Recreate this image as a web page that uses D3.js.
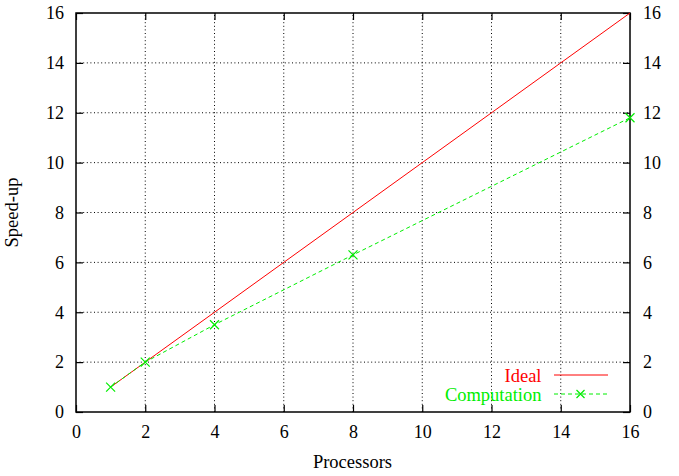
<!DOCTYPE html>
<html><head><meta charset="utf-8">
<script src="https://cdn.jsdelivr.net/npm/d3@7"></script>
<style>body{margin:0;background:#fff}</style>
</head><body><svg id="c" width="679" height="476"></svg>
<script>
const xTicks = [0,2,4,6,8,10,12,14,16];
const yTicks = [0,2,4,6,8,10,12,14,16];
const idealX = [1,16];
const idealY = [1,16];
const compX = [1,2,4,8,16];
const compY = [1,2,3.5,6.3,11.8];
const seriesNames = ["Ideal","Computation"];

(function(){
const FONT = "'Liberation Serif','Times New Roman',serif";
const svg = d3.select("#c");
const L=76,R=630,T=13,B=412;
const x = d3.scaleLinear().domain([0,16]).range([L,R]);
const y = d3.scaleLinear().domain([0,16]).range([B,T]);

// grid
const g = svg.append("g");
xTicks.slice(1,-1).forEach(t=>g.append("line").attr("x1",x(t)).attr("x2",x(t)).attr("y1",B).attr("y2",T)
  .attr("stroke","#000").attr("stroke-width",1).attr("stroke-dasharray","1,2.6"));
yTicks.slice(1,-1).forEach(t=>g.append("line").attr("x1",L).attr("x2",R).attr("y1",y(t)).attr("y2",y(t))
  .attr("stroke","#000").attr("stroke-width",1).attr("stroke-dasharray","1,2.6"));

// axes (inner ticks)
const ax = (axis, tr) => svg.append("g").attr("transform",tr).call(axis)
  .call(s=>s.select(".domain").remove());
ax(d3.axisBottom(x).tickValues(xTicks).tickSize(-7).tickPadding(13).tickFormat(d3.format("d")), `translate(0,${B})`);
ax(d3.axisTop(x).tickValues(xTicks).tickSize(-7).tickFormat(""), `translate(0,${T})`);
ax(d3.axisLeft(y).tickValues(yTicks).tickSize(-7).tickPadding(12).tickFormat(d3.format("d")), `translate(${L},0)`);
ax(d3.axisRight(y).tickValues(yTicks).tickSize(-7).tickPadding(13).tickFormat(d3.format("d")), `translate(${R},0)`);
svg.selectAll(".tick text").style("font-family",FONT).style("font-size","18px").attr("fill","#000");
svg.selectAll(".tick line").attr("stroke","#000").attr("stroke-width",1.2);

svg.append("rect").attr("x",L).attr("y",T).attr("width",R-L).attr("height",B-T)
  .attr("fill","none").attr("stroke","#000").attr("stroke-width",1.5);

// series
const line = d3.line().x(d=>x(d[0])).y(d=>y(d[1]));
const idealData = idealX.map((v,i)=>[v,idealY[i]]);
const compData = compX.map((v,i)=>[v,compY[i]]);
svg.append("path").datum(idealData).attr("d",line).attr("fill","none").attr("stroke","#ff0000").attr("stroke-width",1);
svg.append("path").datum(compData).attr("d",line).attr("fill","none").attr("stroke","#00ee00").attr("stroke-width",1).attr("stroke-dasharray","4,3");
const cross = (cx,cy,s=4.5)=>`M${cx-s},${cy-s}L${cx+s},${cy+s}M${cx-s},${cy+s}L${cx+s},${cy-s}`;
svg.append("g").selectAll("path").data(compData).join("path")
  .attr("d",d=>cross(x(d[0]),y(d[1]))).attr("stroke","#00ee00").attr("stroke-width",1.2);

// legend
const lg = svg.append("g");
const txt = (sel)=>sel.style("font-family",FONT).style("font-size","18.5px");
txt(lg.append("text").attr("x",541.5).attr("y",381.5).attr("text-anchor","end").attr("fill","#ff0000").text(seriesNames[0]));
lg.append("line").attr("x1",554).attr("x2",608).attr("y1",375).attr("y2",375).attr("stroke","#ff0000");
txt(lg.append("text").attr("x",541.5).attr("y",400.5).attr("text-anchor","end").attr("fill","#00ee00").text(seriesNames[1]));
lg.append("line").attr("x1",554).attr("x2",608).attr("y1",394).attr("y2",394).attr("stroke","#00ee00").attr("stroke-dasharray","4,3");
lg.append("path").attr("d",cross(580.5,394,4)).attr("stroke","#00ee00").attr("stroke-width",1.2);

// axis titles
txt(svg.append("text").attr("x",(L+R)/2 - 0.5).attr("y",467.5).attr("text-anchor","middle").text("Processors"));
txt(svg.append("text").attr("transform",`translate(18,${(T+B)/2}) rotate(-90)`).attr("text-anchor","middle").text("Speed-up"));
})();
</script></body></html>
